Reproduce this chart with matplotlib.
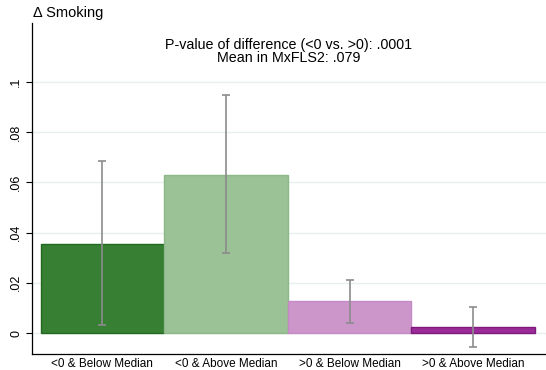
import numpy as np
import matplotlib
matplotlib.use('Agg')
from matplotlib import pyplot as plt

plt.rcParams['font.family'] = ['Liberation Sans', 'DejaVu Sans']

# data
categories = ['<0 & Below Median', '<0 & Above Median', '>0 & Below Median', '>0 & Above Median']
means = [0.0355, 0.0630, 0.0129, 0.0024]
ci_low = [0.0030, 0.0320, 0.0041, -0.0055]
ci_high = [0.0685, 0.0948, 0.0212, 0.0105]
colors = ['#367F33', '#9BC197', '#CC96CB', '#9B2B99']
edges = ['#20691F', '#8DB88A', '#C48AC3', '#7D1A7C']
yticks = [0, 0.02, 0.04, 0.06, 0.08, 0.1]
ytick_labels = ['0', '.02', '.04', '.06', '.08', '.1']

fig = plt.figure(figsize=(5.46, 3.70), dpi=100)
ax = fig.add_axes([0.0586, 0.043, 0.9414, 0.895])

x = np.arange(1, len(categories) + 1)
ax.bar(x, means, width=1.0, color=colors, edgecolor=edges, linewidth=1.0, zorder=2)
means_arr = np.array(means)
err = [means_arr - np.array(ci_low), np.array(ci_high) - means_arr]
ax.errorbar(x, means, yerr=err, fmt='none', ecolor='#8C8C8C', elinewidth=1.2,
            capsize=3, capthick=1.2, zorder=3)

ax.set_xlim(0.43, 4.59)
ax.set_ylim(-0.0084, 0.1235)
ax.set_yticks(yticks)
ax.set_yticklabels(ytick_labels, rotation=90, va='center', fontsize=9)
ax.set_xticks(x)
ax.set_xticklabels(categories, fontsize=8.5)
ax.tick_params(axis='x', length=0, pad=3)
ax.tick_params(axis='y', length=4, width=0.8, pad=3)
ax.grid(axis='y', color='#E6F0F1', linewidth=1.0, zorder=0)
ax.set_axisbelow(True)
for s in ['top', 'right']:
    ax.spines[s].set_visible(False)
for s in ['left', 'bottom']:
    ax.spines[s].set_linewidth(0.9)

fig.text(33 / 546, 1 - 13 / 370, '\u0394 Smoking', fontsize=10.5, va='center', ha='left')
ax.text(0.5, 0.955, 'P-value of difference (<0 vs. >0): .0001\nMean in MxFLS2: .079',
        transform=ax.transAxes, ha='center', va='top', fontsize=10.3, linespacing=0.9)

fig.savefig('out.png', dpi=100)
